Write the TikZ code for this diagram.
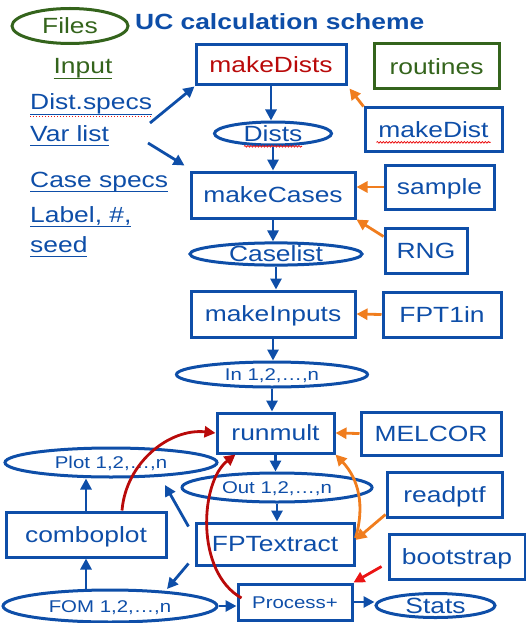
\documentclass[tikz,border=0pt]{standalone}
\usepackage{fontspec}
\setmainfont[FakeStretch=1.2]{Liberation Sans}
\usetikzlibrary{shapes.geometric,arrows.meta,decorations.pathmorphing}
\definecolor{ucblue}{RGB}{14,78,168}
\definecolor{ucgreen}{RGB}{52,100,28}
\definecolor{ucorange}{RGB}{240,125,30}
\definecolor{ucred}{RGB}{235,20,20}
\definecolor{ucdarkred}{RGB}{185,10,10}
\newcommand{\ulined}[1]{\setbox0\hbox{#1}\leavevmode\rlap{\rule[-5.2pt]{\wd0}{1.6pt}}\box0}
\newcommand{\bigtxt}{\fontsize{22}{26}\selectfont}
\newcommand{\smalltxt}{\fontsize{17}{20}\selectfont}
\tikzset{
  box/.style={draw=ucblue, line width=3pt, text=ucblue, inner sep=0pt, font=\bigtxt, text height=15.7pt, text depth=0pt},
  oval/.style={box, ellipse},
  smalloval/.style={oval, font=\smalltxt, text height=12.2pt},
  spec/.style={anchor=base west, inner sep=0pt, text=ucblue, font=\bigtxt},
  flow/.style={-{Triangle[length=11pt,width=11pt]}, draw=ucblue, line width=2.8pt},
  feed/.style={flow, draw=ucorange},
  alarm/.style={flow, draw=ucred},
  loopback/.style={flow, draw=ucdarkred},
  spell/.style={draw=ucred, line width=0.8pt, decorate, decoration={snake, amplitude=0.8pt, segment length=3pt}}
}
\begin{document}
\begin{tikzpicture}[x=1pt,y=-1pt]
\useasboundingbox (0,0) rectangle (526,623);
% legend and inputs
\node[oval, draw=ucgreen, text=ucgreen, minimum width=116pt, minimum height=35pt] (files) at (70,26) {Files};
\node[anchor=west, inner sep=0pt, text=ucblue, font=\bigtxt\bfseries] (title) at (135,22) {UC calculation scheme};
\node[spec, anchor=base, text=ucgreen] (input) at (83,74) {\ulined{Input}};
\node[spec] (distspecs) at (30,110) {\ulined{Dist.specs}};
\node[spec] (varlist) at (30,141) {\ulined{Var list}};
\node[spec] (casespecs) at (30,187) {\ulined{Case specs}};
\node[spec] (caselabel) at (30,222) {\ulined{Label, \#,}};
\node[spec] (seed) at (30,252) {\ulined{seed}};
% main chain
\node[box, text=ucdarkred, minimum width=150pt, minimum height=40pt] (makedists) at (271,65) {makeDists};
\node[oval, minimum width=117pt, minimum height=23pt] (dists) at (273,133.5) {Dists};
\node[box, minimum width=164pt, minimum height=46pt] (makecases) at (273,195) {makeCases};
\node[oval, minimum width=172pt, minimum height=22pt] (caselist) at (276,254) {Caselist};
\node[box, minimum width=164pt, minimum height=46pt] (makeinputs) at (273,314) {makeInputs};
\node[smalloval, minimum width=191pt, minimum height=25pt] (inlist) at (272,374.5) {In 1,2,…,n};
\node[box, minimum width=117pt, minimum height=40pt] (runmult) at (275.5,433) {runmult};
\node[smalloval, minimum width=190pt, minimum height=29pt] (outlist) at (277,487.5) {Out 1,2,…,n};
\node[box, minimum width=158pt, minimum height=42pt] (fptextract) at (275,544) {FPTextract};
\node[box, font=\smalltxt, text height=12.2pt, minimum width=114pt, minimum height=36pt] (process) at (295,602) {Process+};
\node[oval, minimum width=119pt, minimum height=24pt] (stats) at (435.5,605.5) {Stats};
\node[smalloval, minimum width=214pt, minimum height=32pt] (fom) at (110,606) {FOM 1,2,…,n};
\node[box, minimum width=160pt, minimum height=45pt] (comboplot) at (86,534.5) {comboplot};
\node[smalloval, minimum width=212pt, minimum height=29pt] (plot) at (111,462.5) {Plot 1,2,…,n};
% routines
\node[box, draw=ucgreen, text=ucgreen, minimum width=125pt, minimum height=45pt] (routines) at (436.5,66.5) {routines};
\node[box, minimum width=137pt, minimum height=43pt] (makedist) at (433.5,129.5) {makeDist};
\node[box, minimum width=109pt, minimum height=44pt] (sample) at (439.5,187) {sample};
\node[box, minimum width=82pt, minimum height=45pt] (rng) at (426,250.5) {RNG};
\node[box, minimum width=118pt, minimum height=45pt] (fpt1in) at (442,314.5) {FPT1in};
\node[box, minimum width=140pt, minimum height=43pt] (melcor) at (431,433.5) {MELCOR};
\node[box, minimum width=115pt, minimum height=45pt] (readptf) at (444.5,494.5) {readptf};
\node[box, minimum width=136pt, minimum height=45pt] (bootstrap) at (457,556.5) {bootstrap};
% spell-check marks
\draw[ucred, line width=1pt, dotted] ([yshift=-7pt]distspecs.base west) -- ([yshift=-7pt]distspecs.base east);
\draw[spell] ([shift={(-29pt,-5pt)}]dists.base) -- ([shift={(29pt,-5pt)}]dists.base);
\draw[spell] ([shift={(-57pt,-5pt)}]makedist.base) -- ([shift={(57pt,-5pt)}]makedist.base);
% free ends
\coordinate (specsout) at (150,123);
\coordinate (listout) at (148,143);
\coordinate (plotin) at (165,485);
\coordinate (fomin) at (167,589);
% connectors
\draw[flow] (specsout) -- (makedists.south west);
\draw[flow] (listout) -- ([xshift=-5pt,yshift=5pt]makecases.north west);
\foreach \a/\b in {makedists/dists, dists/makecases, makecases/caselist, caselist/makeinputs,
                   makeinputs/inlist, inlist/runmult, runmult/outlist, outlist/fptextract}
  \draw[flow] (\a.south) -- (\a.south |- \b.north);
\draw[feed] (makedist.north west) -- ([xshift=2pt,yshift=-2pt]makedists.south east);
\draw[feed] (sample.west) -- (makecases.east |- sample.west);
\draw[feed] ([yshift=-10pt]rng.north west) -- (makecases.south east);
\draw[feed] (fpt1in.west) -- (makeinputs.east);
\draw[feed] (melcor.west) -- (runmult.east);
\draw[feed] ([yshift=4pt]readptf.south west) -- ([yshift=4pt]fptextract.east);
\draw[feed] ([yshift=6pt]fptextract.east) to[bend right=30] (runmult.south east);
\draw[alarm] ([xshift=-6pt,yshift=-10pt]bootstrap.west) -- (process.north east);
\draw[flow] (fom.east) -- (process.west |- fom.east);
\draw[flow] (process.east) -- (stats.west |- process.east);
\draw[flow] (fom.north -| comboplot.south) -- (comboplot.south);
\draw[flow] (comboplot.north) -- (comboplot.north |- plot.south);
\draw[flow] ([xshift=-6pt,yshift=-5pt]fptextract.north west) -- (plotin);
\draw[flow] ([xshift=-6pt,yshift=3pt]fptextract.south west) -- (fomin);
\draw[loopback] ([xshift=36pt]comboplot.north) .. controls (126,462) and (170,428) .. (runmult.west);
\draw[loopback] ([xshift=5pt,yshift=4pt]process.west) .. controls (195,572) and (200,482) .. ([xshift=20pt]runmult.south west);
\end{tikzpicture}
\end{document}
